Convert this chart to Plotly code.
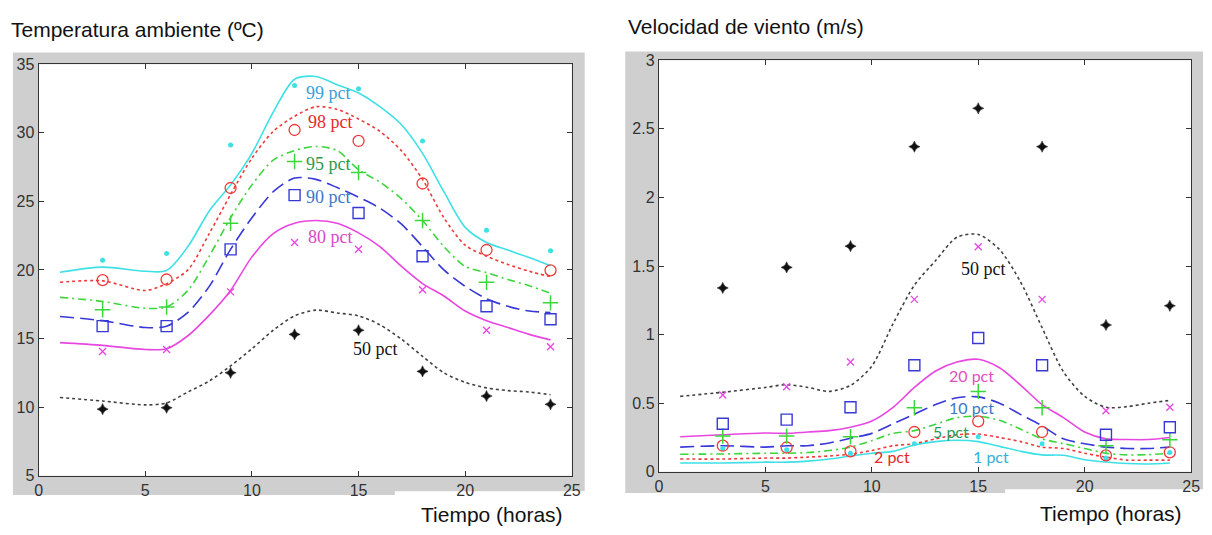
import plotly.graph_objects as go

W, H = 1212, 535

# ---------------- data ----------------
hours_pts = [3, 6, 9, 12, 15, 18, 21, 24]
hours_line = [1, 3, 5, 6, 7, 8, 9, 10, 11, 12, 13, 14, 15, 16, 17, 18, 19, 20, 21, 22, 23, 24]

# Temperature (left)
temp_pts_99 = [20.7, 21.2, 29.1, 33.45, 33.2, 29.4, 22.9, 21.4]
temp_pts_98 = [19.26, 19.3, 25.97, 30.2, 29.4, 26.3, 21.45, 19.97]
temp_pts_95 = [17.1, 17.3, 23.4, 27.9, 27.1, 23.6, 19.1, 17.6]
temp_pts_90 = [15.9, 15.9, 21.5, 25.45, 24.15, 21.0, 17.35, 16.4]
temp_pts_80 = [14.05, 14.2, 18.4, 22.0, 21.5, 18.55, 15.6, 14.4]
temp_pts_50 = [9.85, 9.95, 12.5, 15.3, 15.6, 12.6, 10.8, 10.2]

temp_line_99 = [19.83, 20.2, 19.9, 19.95, 21.7, 24.3, 26.2, 28.5, 31.5, 33.9, 34.1, 33.5, 32.9, 31.9, 30.6, 28.5, 25.7, 23.1, 22.0, 21.45, 20.9, 20.3]
temp_line_98 = [19.1, 19.2, 18.5, 19.0, 20.0, 22.65, 25.5, 28.15, 30.1, 31.2, 31.9, 31.7, 31.0, 30.1, 28.7, 26.6, 23.8, 21.8, 21.0, 20.4, 19.9, 19.5]
temp_line_95 = [18.0, 17.7, 17.2, 17.3, 18.5, 21.0, 23.8, 26.2, 28.0, 28.7, 29.0, 28.7, 27.3, 26.4, 25.2, 23.6, 21.7, 20.25, 19.8, 19.3, 18.85, 18.3]
temp_line_90 = [16.6, 16.3, 15.8, 15.9, 16.9, 18.8, 21.5, 23.8, 25.7, 26.7, 26.6, 26.0, 25.3, 24.5, 23.35, 21.7, 20.0, 18.8, 17.9, 17.35, 17.0, 16.9]
temp_line_80 = [14.7, 14.5, 14.2, 14.25, 15.2, 16.7, 18.5, 20.95, 22.65, 23.4, 23.6, 23.4, 22.7, 21.7, 20.27, 19.0, 18.1, 17.0, 16.3, 15.8, 15.3, 14.9]
temp_line_50 = [10.7, 10.44, 10.16, 10.3, 11.1, 11.9, 13.0, 14.25, 15.6, 16.65, 17.07, 16.86, 16.65, 16.0, 14.96, 13.7, 12.5, 11.8, 11.4, 11.2, 11.1, 10.9]

# Wind speed (right)
wind_pts_50 = [1.34, 1.49, 1.645, 2.37, 2.65, 2.37, 1.07, 1.21]
wind_pts_20 = [0.56, 0.62, 0.80, 1.257, 1.64, 1.257, 0.445, 0.47]
wind_pts_10 = [0.35, 0.38, 0.47, 0.777, 0.975, 0.777, 0.27, 0.325]
wind_pts_5 = [0.26, 0.26, 0.255, 0.467, 0.586, 0.467, 0.19, 0.234]
wind_pts_2 = [0.19, 0.177, 0.149, 0.29, 0.368, 0.29, 0.12, 0.142]
wind_pts_1 = [0.17, 0.16, 0.135, 0.205, 0.255, 0.205, 0.10, 0.14]

wind_line_50 = [0.55, 0.58, 0.615, 0.635, 0.615, 0.586, 0.63, 0.77, 1.08, 1.36, 1.54, 1.71, 1.73, 1.62, 1.38, 1.05, 0.73, 0.55, 0.47, 0.475, 0.50, 0.52]
wind_line_20 = [0.255, 0.27, 0.283, 0.28, 0.29, 0.30, 0.325, 0.37, 0.47, 0.615, 0.735, 0.80, 0.82, 0.758, 0.63, 0.49, 0.395, 0.29, 0.24, 0.235, 0.235, 0.25]
wind_line_10 = [0.18, 0.19, 0.18, 0.19, 0.19, 0.21, 0.245, 0.28, 0.35, 0.42, 0.49, 0.54, 0.546, 0.50, 0.417, 0.335, 0.24, 0.205, 0.18, 0.17, 0.17, 0.18]
wind_line_5 = [0.128, 0.13, 0.135, 0.135, 0.14, 0.155, 0.18, 0.227, 0.28, 0.30, 0.347, 0.395, 0.405, 0.375, 0.31, 0.24, 0.205, 0.17, 0.135, 0.123, 0.125, 0.135]
wind_line_2 = [0.093, 0.093, 0.10, 0.10, 0.107, 0.115, 0.128, 0.155, 0.19, 0.205, 0.24, 0.27, 0.275, 0.25, 0.22, 0.18, 0.17, 0.135, 0.107, 0.085, 0.085, 0.085]
wind_line_1 = [0.064, 0.064, 0.07, 0.07, 0.078, 0.093, 0.115, 0.135, 0.149, 0.195, 0.22, 0.23, 0.22, 0.185, 0.149, 0.123, 0.12, 0.088, 0.071, 0.06, 0.057, 0.064]

temp_ticks = [5, 10, 15, 20, 25, 30, 35]
wind_ticks = [0, 0.5, 1, 1.5, 2, 2.5, 3]
wind_tick_text = ["0", "0.5", "1", "1.5", "2", "2.5", "3"]
hour_ticks = [0, 5, 10, 15, 20, 25]

temp_labels = [("99 pct", 13.6, 32.9), ("98 pct", 13.7, 30.8), ("95 pct", 13.6, 27.7),
               ("90 pct", 13.6, 25.3), ("80 pct", 13.7, 22.4), ("50 pct", 15.8, 14.25)]
wind_labels = [("50 pct", 15.25, 1.48), ("20 pct", 14.7, 0.70), ("10 pct", 14.7, 0.467),
               ("5 pct", 13.7, 0.297), ("2 pct", 10.97, 0.114), ("1 pct", 15.6, 0.114)]

# ---------------- styles ----------------
CYAN = "#3ee0e6"
RED = "#ee3a3a"
GREEN = "#3cd63c"
BLUE = "#3838d8"
MAG = "#e846e0"
BLK = "#404040"

temp_label_colors = ["#3a9ed8", "#e82828", "#2e9a48", "#3a78c8", "#d848c8", "#111111"]
wind_label_colors = ["#111111", "#e050c0", "#3a78c8", "#2e9a50", "#e02828", "#30b0d8"]

line_specs = [  # color, dash
    (CYAN, "solid"),
    (RED, "3px,3px"),
    (GREEN, "8px,4px,2px,4px"),
    (BLUE, "14px,6px"),
    (MAG, "solid"),
    (BLK, "3px,3px"),
]
marker_specs = [  # symbol, size, color, line width
    ("circle", 5, CYAN, 0),
    ("circle-open", 11, RED, 1.3),
    ("cross-thin-open", 11, GREEN, 1.5),
    ("square-open", 11, BLUE, 1.4),
    ("x-thin-open", 7, MAG, 1.3),
    ("star-diamond", 8, "#111111", 0.5),
]

fig = go.Figure()

temp_lines = [temp_line_99, temp_line_98, temp_line_95, temp_line_90, temp_line_80, temp_line_50]
temp_pts = [temp_pts_99, temp_pts_98, temp_pts_95, temp_pts_90, temp_pts_80, temp_pts_50]
wind_lines = [wind_line_1, wind_line_2, wind_line_5, wind_line_10, wind_line_20, wind_line_50]
wind_pts = [wind_pts_1, wind_pts_2, wind_pts_5, wind_pts_10, wind_pts_20, wind_pts_50]


def add_series(lines, pts, xa, ya):
    for i in range(6):
        col, dash = line_specs[i]
        fig.add_trace(go.Scatter(x=hours_line, y=lines[i], mode="lines",
                                 line=dict(color=col, width=1.6, dash=dash, shape="spline", smoothing=0.8),
                                 xaxis=xa, yaxis=ya, showlegend=False, hoverinfo="skip"))
    for i in range(6):
        sym, sz, col, lw = marker_specs[i]
        fig.add_trace(go.Scatter(x=hours_pts, y=pts[i], mode="markers",
                                 marker=dict(symbol=sym, size=sz, color=col,
                                             line=dict(color=col, width=lw)),
                                 xaxis=xa, yaxis=ya, showlegend=False, hoverinfo="skip"))


add_series(temp_lines, temp_pts, "x", "y")
add_series(wind_lines, wind_pts, "x2", "y2")

# ---------------- layout ----------------
L_x0, L_x1, L_y0, L_y1 = 35, 574, 58, 483
R_x0, R_x1, R_y0, R_y1 = 662, 1200, 54, 479

axis_common = dict(showgrid=False, zeroline=False, showline=True, linecolor="#333333", linewidth=1.2,
                   mirror="ticks", ticks="inside", ticklen=5, tickcolor="#333333",
                   tickfont=dict(family="Liberation Sans, Arial", size=16, color="#333333"))

fig.update_layout(
    width=W, height=H, margin=dict(l=0, r=0, t=0, b=0),
    paper_bgcolor="white", plot_bgcolor="white",
    xaxis=dict(domain=[L_x0 / W, L_x1 / W], range=[0, 25], tickvals=hour_ticks, anchor="y", **axis_common),
    yaxis=dict(domain=[1 - L_y1 / H, 1 - L_y0 / H], range=[5, 35], tickvals=temp_ticks, anchor="x", **axis_common),
    xaxis2=dict(domain=[R_x0 / W, R_x1 / W], range=[0, 25], tickvals=hour_ticks, anchor="y2", **axis_common),
    yaxis2=dict(domain=[1 - R_y1 / H, 1 - R_y0 / H], range=[0, 3], tickvals=wind_ticks,
                ticktext=wind_tick_text, anchor="x2", **axis_common),
)


def px_rect(x0, y0, x1, y1, color):
    return dict(type="rect", xref="paper", yref="paper", x0=x0 / W, x1=x1 / W,
                y0=1 - y1 / H, y1=1 - y0 / H, fillcolor=color, line=dict(width=0), layer="below")


fig.update_layout(shapes=[
    px_rect(9, 46, 587, 503, "#cfcfcf"),
    px_rect(395, 499, 600, 535, "white"),
    px_rect(L_x0, L_y0, L_x1, L_y1, "white"),
    px_rect(628, 45, 1212, 501, "#cfcfcf"),
    px_rect(1012, 497, 1212, 535, "white"),
    px_rect(R_x0, R_y0, R_x1, R_y1, "white"),
])

annos = []
for (t, x, y), c in zip(temp_labels, temp_label_colors):
    annos.append(dict(text=t, x=x, y=y, xref="x", yref="y", showarrow=False,
                      font=dict(family="Liberation Serif, Times New Roman", size=18, color=c)))
for i, ((t, x, y), c) in enumerate(zip(wind_labels, wind_label_colors)):
    fam = "Liberation Serif, Times New Roman" if i == 0 else "Lato, Open Sans"
    sz = 18 if i == 0 else 16
    annos.append(dict(text=t, x=x, y=y, xref="x2", yref="y2", showarrow=False,
                      font=dict(family=fam, size=sz, color=c)))


def px_text(text, x, y, size=21, xanchor="left"):
    return dict(text=text, x=x / W, y=1 - y / H, xref="paper", yref="paper", showarrow=False,
                xanchor=xanchor, yanchor="middle",
                font=dict(family="Liberation Sans, Arial", size=size, color="#111111"))


annos += [
    px_text("Temperatura ambiente (ºC)", 5, 22),
    px_text("Velocidad de viento (m/s)", 629, 19),
    px_text("Tiempo (horas)", 420, 523),
    px_text("Tiempo (horas)", 1045, 522),
]
fig.update_layout(annotations=annos)

fig.write_html("out.html")
